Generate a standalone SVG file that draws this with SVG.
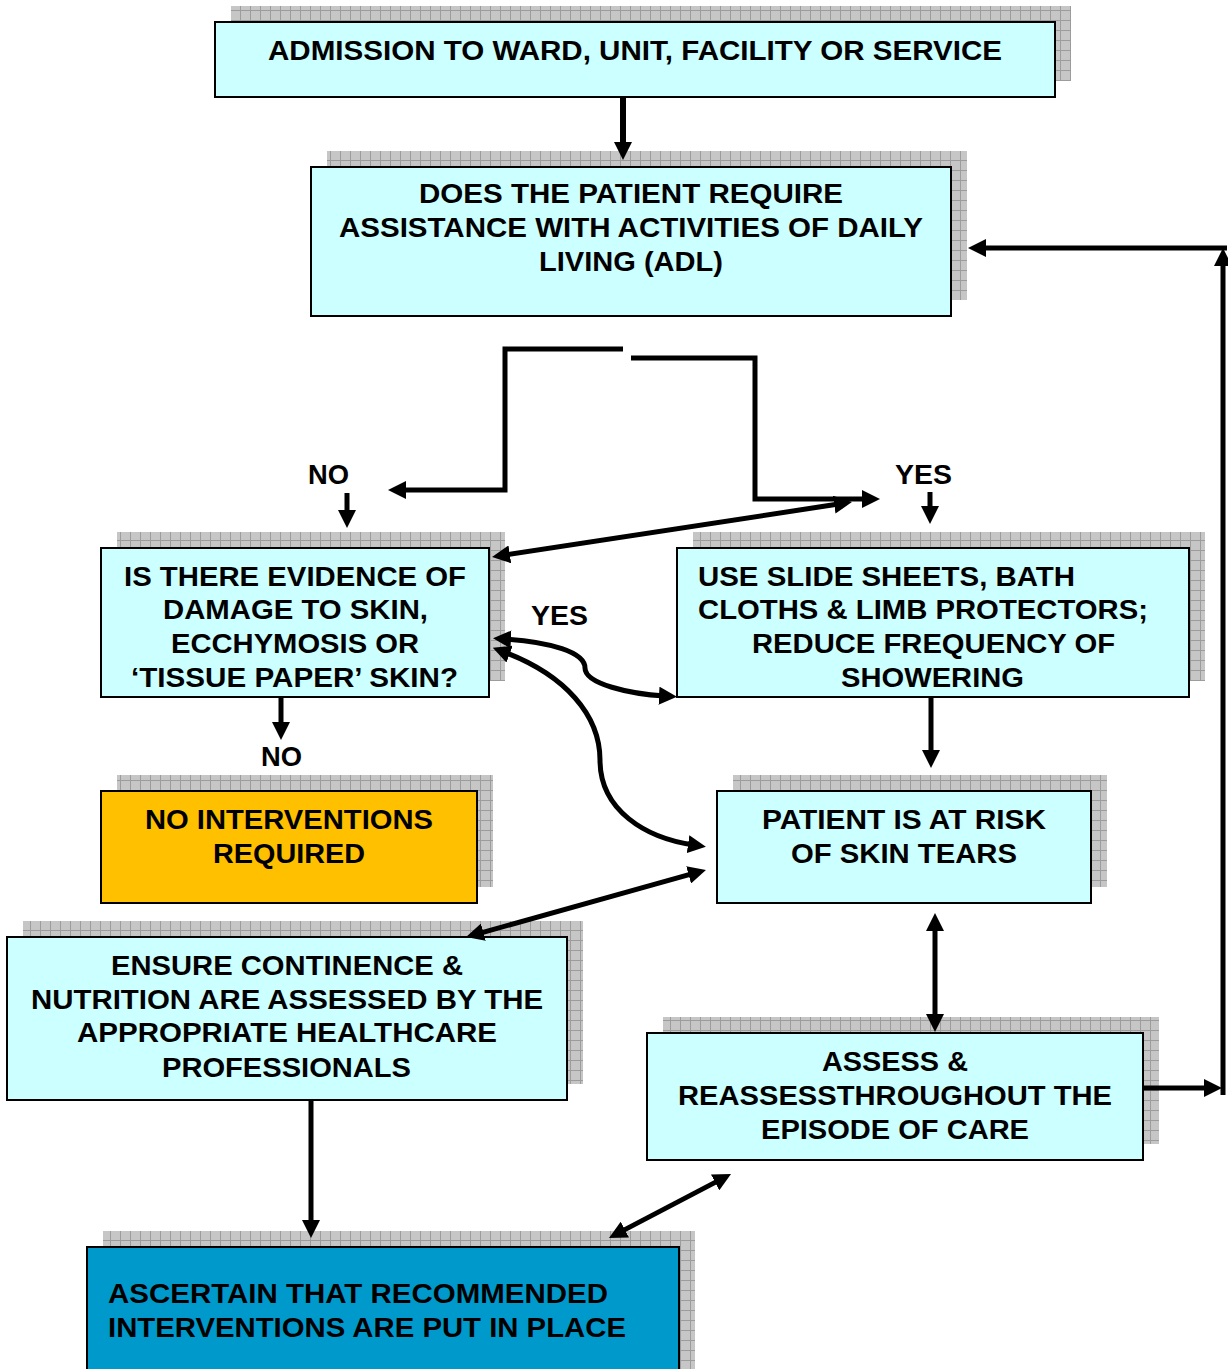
<svg xmlns="http://www.w3.org/2000/svg" width="1228" height="1369" viewBox="0 0 1228 1369">
<style>
.box{fill:#ccffff;stroke:#000;stroke-width:2}
.sh{fill:url(#grid)}
.t{font-family:"Liberation Sans",Arial,sans-serif;font-weight:bold;font-size:27px;fill:#000}
.c{text-anchor:middle}
.ln{fill:none;stroke:#000;stroke-width:5}
.one{marker-end:url(#ah)}
.two{marker-start:url(#ah);marker-end:url(#ah)}
</style>
<defs>
<pattern id="grid" patternUnits="userSpaceOnUse" width="10" height="10">
<rect width="10" height="10" fill="#c6c6c6"/>
<path d="M0,0.5 H10 M0.5,0 V10" stroke="#9c9c9c" stroke-width="1"/>
</pattern>
<marker id="ah" markerUnits="userSpaceOnUse" markerWidth="18" markerHeight="18" refX="6" refY="9" orient="auto-start-reverse">
<path d="M0,0 L18,9 L0,18 Z" fill="#000"/>
</marker>
</defs>

<g id="n1">
<rect class="sh" x="231" y="6" width="840" height="75"/>
<rect class="box" x="215" y="22" width="840" height="75"/>
<text class="t c" x="635" y="60" textLength="734" lengthAdjust="spacingAndGlyphs">ADMISSION TO WARD, UNIT, FACILITY OR SERVICE</text>
</g>

<g id="n2">
<rect class="sh" x="327" y="151" width="640" height="149"/>
<rect class="box" x="311" y="167" width="640" height="149"/>
<text class="t c" x="631" y="202.5" textLength="424" lengthAdjust="spacingAndGlyphs">DOES THE PATIENT REQUIRE</text>
<text class="t c" x="631" y="236.5" textLength="584" lengthAdjust="spacingAndGlyphs">ASSISTANCE WITH ACTIVITIES OF DAILY</text>
<text class="t c" x="631" y="270.5" textLength="184" lengthAdjust="spacingAndGlyphs">LIVING (ADL)</text>
</g>

<g id="n3">
<rect class="sh" x="117" y="532" width="388" height="149"/>
<rect class="box" x="101" y="548" width="388" height="149"/>
<text class="t c" x="295" y="585.5" textLength="342" lengthAdjust="spacingAndGlyphs">IS THERE EVIDENCE OF</text>
<text class="t c" x="295.5" y="618.5" textLength="265" lengthAdjust="spacingAndGlyphs">DAMAGE TO SKIN,</text>
<text class="t c" x="295" y="652.5" textLength="248" lengthAdjust="spacingAndGlyphs">ECCHYMOSIS OR</text>
<text class="t c" x="294.5" y="686.5" textLength="327" lengthAdjust="spacingAndGlyphs">‘TISSUE PAPER’ SKIN?</text>
</g>

<g id="n4">
<rect class="sh" x="693" y="532" width="512" height="149"/>
<rect class="box" x="677" y="548" width="512" height="149"/>
<text class="t" x="698" y="585.5" textLength="377" lengthAdjust="spacingAndGlyphs">USE SLIDE SHEETS, BATH</text>
<text class="t" x="698" y="618.5" textLength="450" lengthAdjust="spacingAndGlyphs">CLOTHS &amp; LIMB PROTECTORS;</text>
<text class="t c" x="933.5" y="652.5" textLength="363" lengthAdjust="spacingAndGlyphs">REDUCE FREQUENCY OF</text>
<text class="t c" x="932.5" y="686.5" textLength="183" lengthAdjust="spacingAndGlyphs">SHOWERING</text>
</g>

<g id="n5">
<rect class="sh" x="117" y="775" width="376" height="112"/>
<rect class="box" x="101" y="791" width="376" height="112" style="fill:#ffc000"/>
<text class="t c" x="289" y="828.5" textLength="288" lengthAdjust="spacingAndGlyphs">NO INTERVENTIONS</text>
<text class="t c" x="289" y="862.5" textLength="152" lengthAdjust="spacingAndGlyphs">REQUIRED</text>
</g>

<g id="n6">
<rect class="sh" x="733" y="775" width="374" height="112"/>
<rect class="box" x="717" y="791" width="374" height="112"/>
<text class="t c" x="904" y="828.5" textLength="284" lengthAdjust="spacingAndGlyphs">PATIENT IS AT RISK</text>
<text class="t c" x="904" y="862.5" textLength="226" lengthAdjust="spacingAndGlyphs">OF SKIN TEARS</text>
</g>

<g id="n7">
<rect class="sh" x="23" y="921" width="560" height="163"/>
<rect class="box" x="7" y="937" width="560" height="163"/>
<text class="t c" x="287" y="974.5" textLength="352" lengthAdjust="spacingAndGlyphs">ENSURE CONTINENCE &amp;</text>
<text class="t c" x="287" y="1008.5" textLength="512" lengthAdjust="spacingAndGlyphs">NUTRITION ARE ASSESSED BY THE</text>
<text class="t c" x="287" y="1041.5" textLength="420" lengthAdjust="spacingAndGlyphs">APPROPRIATE HEALTHCARE</text>
<text class="t c" x="286.5" y="1076.5" textLength="249" lengthAdjust="spacingAndGlyphs">PROFESSIONALS</text>
</g>

<g id="n8">
<rect class="sh" x="663" y="1017" width="496" height="127"/>
<rect class="box" x="647" y="1033" width="496" height="127"/>
<text class="t c" x="895" y="1070.5" textLength="146" lengthAdjust="spacingAndGlyphs">ASSESS &amp;</text>
<text class="t c" x="895" y="1104.5" textLength="434" lengthAdjust="spacingAndGlyphs">REASSESSTHROUGHOUT THE</text>
<text class="t c" x="895" y="1138.5" textLength="268" lengthAdjust="spacingAndGlyphs">EPISODE OF CARE</text>
</g>

<g id="n9">
<rect class="sh" x="103" y="1231" width="592" height="150"/>
<rect class="box" x="87" y="1247" width="592" height="140" style="fill:#0099cc"/>
<text class="t" x="108" y="1302.5" textLength="500" lengthAdjust="spacingAndGlyphs">ASCERTAIN THAT RECOMMENDED</text>
<text class="t" x="108" y="1336.5" textLength="518" lengthAdjust="spacingAndGlyphs">INTERVENTIONS ARE PUT IN PLACE</text>
</g>

<g id="labels">
<text class="t c" x="328.5" y="483.5" textLength="41" lengthAdjust="spacingAndGlyphs">NO</text>
<text class="t c" x="923.5" y="483.5" textLength="57" lengthAdjust="spacingAndGlyphs">YES</text>
<text class="t c" x="559.5" y="624.5" textLength="57" lengthAdjust="spacingAndGlyphs">YES</text>
<text class="t c" x="281.5" y="765.5" textLength="41" lengthAdjust="spacingAndGlyphs">NO</text>
</g>

<g id="connectors">
<path class="ln one" d="M623,97 V148" style="stroke-width:6"/>
<path class="ln one" d="M623,349 H505 V490 H400"/>
<path class="ln one" d="M631,358 H755 V499 H868"/>
<path class="ln one" d="M347,493 V516"/>
<path class="ln one" d="M930,492 V512"/>
<path class="ln two" d="M503.9,555.2 L840.1,503.8"/>
<path class="ln two" d="M505,639 C550,642 585,652 585,668 C585,684 630,694 665,696"/>
<path class="ln two" d="M504,652 C565,675 600,715 600,760 C600,810 645,838 694,845"/>
<path class="ln one" d="M931,697 V756"/>
<path class="ln one" d="M281,697 V728"/>
<path class="ln two" d="M477.6,933.8 L694.4,873.2"/>
<path class="ln two" d="M935,925 V1020"/>
<path class="ln one" d="M311,1100 V1226"/>
<path class="ln two" d="M619.6,1232.4 L720.4,1179.6"/>
<path class="ln one" d="M1143,1088 H1210"/>
<path class="ln one" d="M1223,1095 V260"/>
<path class="ln one" d="M1227,248 H980"/>
</g>
</svg>
